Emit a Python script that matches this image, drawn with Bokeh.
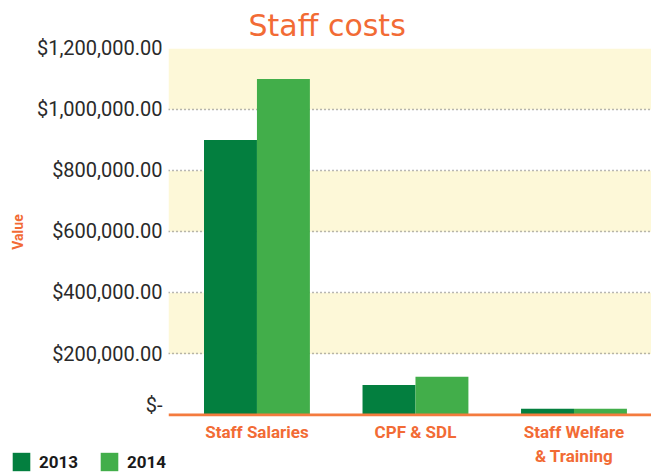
from bokeh.plotting import figure
from bokeh.layouts import row, column
from bokeh.models import (Range1d, FixedTicker, NumeralTickFormatter, BoxAnnotation,
                          Span, Legend, LegendItem, Title, LinearAxis)
from bokeh.embed import file_html
from bokeh.resources import INLINE

# ---- data ----
categories = ["Staff Salaries", "CPF & SDL", "Staff Welfare\n& Training"]
series = ["2013", "2014"]
values_2013 = [900000, 98000, 20000]
values_2014 = [1100000, 125000, 20000]
y_ticks = [0, 200000, 400000, 600000, 800000, 1000000, 1200000]
zero_label = "$-"

# ---- styles ----
C2013 = "#037F3F"
C2014 = "#42AE4A"
ORANGE = "#F26B35"
BAND = "#FDF8D8"
FONT = "Roboto"

xs = list(range(len(categories)))
bw = 0.334
yr = Range1d(-5000, 1200000)

# ---------------- main plot area ----------------
main = figure(width=483, height=474, output_backend="svg", toolbar_location=None,
              x_range=Range1d(-0.558, 2.489), y_range=yr,
              y_axis_location=None, x_axis_location=None,
              min_border_left=0, min_border_right=0, min_border_top=47,
              min_border_bottom=58, background_fill_color="white",
              border_fill_color="white", outline_line_color=None)

main.title = Title(text="Staff costs", align="left", offset=80, text_color=ORANGE,
                   text_font="DejaVu Sans", text_font_size="30px",
                   text_font_style="normal", standoff=11)

for lo, hi in [(200000, 400000), (600000, 800000), (1000000, 1200000)]:
    main.add_layout(BoxAnnotation(bottom=lo, top=hi, fill_color=BAND,
                                  fill_alpha=1, line_color=None, level="image"))

main.vbar(x=[x - bw / 2 for x in xs], top=values_2013, width=bw, color=C2013, line_color=None)
main.vbar(x=[x + bw / 2 for x in xs], top=values_2014, width=bw, color=C2014, line_color=None)

main.add_layout(Span(location=0, dimension="width", line_color="#F47B3E", line_width=3))

main.xgrid.visible = False
main.ygrid.ticker = FixedTicker(ticks=y_ticks[1:])
main.ygrid.grid_line_color = "#707070"
main.ygrid.grid_line_dash = "1 3"
main.ygrid.grid_line_width = 1.5

xa = LinearAxis(ticker=FixedTicker(ticks=xs),
                major_label_overrides={i: c for i, c in zip(xs, categories)})
xa.axis_line_color = None
xa.major_tick_line_color = None
xa.minor_tick_line_color = None
xa.major_tick_out = 0
xa.major_label_standoff = 5
xa.major_label_text_font = FONT
xa.major_label_text_font_style = "bold"
xa.major_label_text_font_size = "17px"
xa.major_label_text_color = ORANGE
main.add_layout(xa, "below")

# ---------------- y axis column ----------------
yfig = figure(width=168, height=416, output_backend="svg", toolbar_location=None,
              x_range=Range1d(0, 1), y_range=yr, x_axis_location=None,
              min_border_left=163, min_border_right=0, min_border_top=47,
              min_border_bottom=0, background_fill_color="white",
              border_fill_color="white", outline_line_color=None)
yfig.grid.visible = False
ya = yfig.yaxis[0]
ya.ticker = FixedTicker(ticks=y_ticks)
ya.formatter = NumeralTickFormatter(format="$0,0.00")
ya.major_label_overrides = {0: zero_label}
ya.axis_line_color = None
ya.major_tick_line_color = None
ya.minor_tick_line_color = None
ya.major_tick_out = 0
ya.major_label_standoff = 1
ya.major_label_text_font = FONT
ya.major_label_text_font_size = "20px"
ya.major_label_text_color = "#2a2a2a"
ya.axis_label = "Value"
ya.axis_label_text_color = ORANGE
ya.axis_label_text_font = FONT
ya.axis_label_text_font_style = "bold"
ya.axis_label_text_font_size = "14px"
ya.axis_label_standoff = 8

# ---------------- legend corner ----------------
lfig = figure(width=168, height=58, output_backend="svg", toolbar_location=None,
              x_range=Range1d(-30, -29), y_range=Range1d(-30, -29),
              x_axis_location=None, y_axis_location=None, min_border=0,
              background_fill_color="white", border_fill_color="white",
              outline_line_color=None)
lfig.frame_align = False
lfig.grid.visible = False
lr1 = lfig.vbar(x=[x - bw / 2 for x in xs], top=values_2013, width=bw, color=C2013, line_color=None)
lr2 = lfig.vbar(x=[x + bw / 2 for x in xs], top=values_2014, width=bw, color=C2014, line_color=None)
legend = Legend(items=[LegendItem(label=series[0], renderers=[lr1]),
                       LegendItem(label=series[1], renderers=[lr2])],
                orientation="horizontal", location=(10, 1),
                glyph_width=22, glyph_height=23, label_standoff=7, spacing=20,
                padding=0, margin=0, border_line_color=None, background_fill_alpha=0,
                label_text_font=FONT, label_text_font_style="bold",
                label_text_font_size="17px", label_text_color="#1a1a1a")
lfig.add_layout(legend)

layout = row(column(yfig, lfig, spacing=0), main, spacing=0)

open("out.html", "w").write(file_html(layout, INLINE))
